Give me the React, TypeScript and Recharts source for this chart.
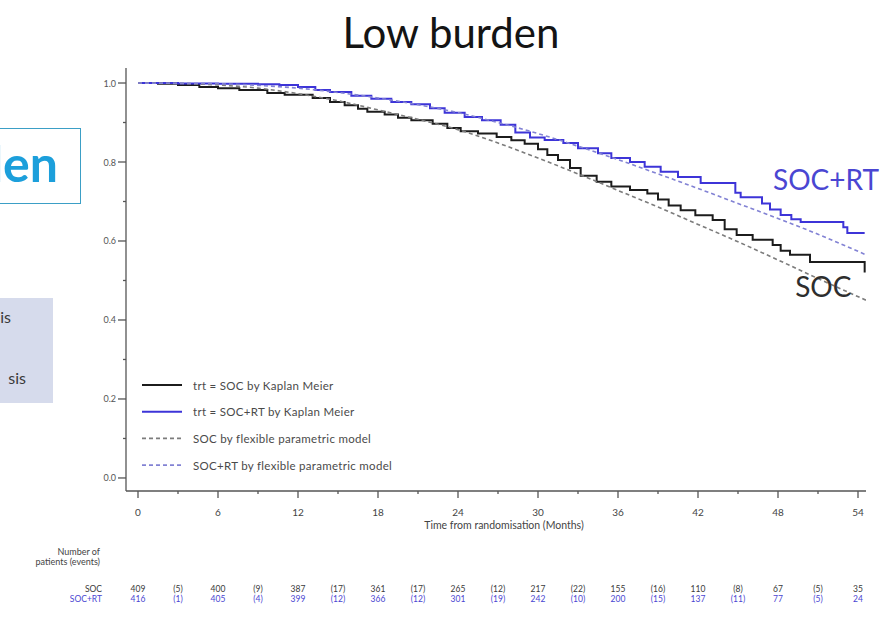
import React from 'react';
import { LineChart, Line, XAxis, YAxis, Legend, ReferenceDot, Label } from 'recharts';

// Time axis (months from randomisation) and survival axis ticks
const monthTicks = [0, 3, 6, 9, 12, 15, 18, 21, 24, 27, 30, 33, 36, 39, 42, 45, 48, 51, 54];
const survivalTicks = [0, 0.1, 0.2, 0.3, 0.4, 0.5, 0.6, 0.7, 0.8, 0.9, 1.0];

// Number at risk (every 6 months) and events (in between), one entry per time tick
const socAtRisk = ['409', '(5)', '400', '(9)', '387', '(17)', '361', '(17)', '265', '(12)', '217', '(22)', '155', '(16)', '110', '(8)', '67', '(5)', '35'];
const socRtAtRisk = ['416', '(1)', '405', '(4)', '399', '(12)', '366', '(12)', '301', '(19)', '242', '(10)', '200', '(15)', '137', '(11)', '77', '(5)', '24'];

// Kaplan-Meier estimates: [month, survival]
const socKaplanMeier: [number, number][] = [
  [0, 1.0], [1.5, 0.998], [3, 0.995], [4.6, 0.99], [6, 0.987], [7.6, 0.982], [9.7, 0.975],
  [11, 0.97], [13.1, 0.962], [14.4, 0.952], [15.5, 0.944], [16.5, 0.935], [17.2, 0.927],
  [18.5, 0.92], [19.5, 0.912], [20.5, 0.906], [22.1, 0.897], [23.2, 0.886], [24.2, 0.878],
  [25.5, 0.872], [26.9, 0.863], [28, 0.855], [29, 0.846], [30, 0.832], [30.7, 0.818],
  [31.5, 0.805], [32.4, 0.785], [33.2, 0.765], [34.4, 0.75], [35.5, 0.738], [36.9, 0.729],
  [38.2, 0.72], [39, 0.705], [39.8, 0.69], [40.7, 0.678], [41.8, 0.665], [43.1, 0.653],
  [44, 0.63], [44.9, 0.615], [46.1, 0.603], [47.6, 0.59], [48.2, 0.575], [48.9, 0.565],
  [50.4, 0.547], [54.5, 0.52],
];

const socRtKaplanMeier: [number, number][] = [
  [0, 1.0], [3, 0.999], [6, 0.998], [9, 0.997], [10.6, 0.995], [12, 0.99], [13.3, 0.982],
  [14.4, 0.977], [16, 0.968], [17.5, 0.96], [19, 0.952], [20.5, 0.946], [21.9, 0.936],
  [23, 0.925], [24.5, 0.914], [25.8, 0.906], [27.2, 0.894], [28.3, 0.875], [29.4, 0.862],
  [30.5, 0.856], [31.9, 0.848], [33, 0.835], [34.5, 0.822], [35.5, 0.81], [36.9, 0.8],
  [38, 0.788], [39.2, 0.775], [40.5, 0.762], [42.2, 0.747], [44.8, 0.722], [45.2, 0.711],
  [46.8, 0.695], [47.4, 0.68], [48.2, 0.666], [49, 0.655], [49.7, 0.648], [52.9, 0.635],
  [53.2, 0.62], [54.5, 0.62],
];

// Flexible parametric model fits: [month, survival]
const socModel: [number, number][] = [
  [0, 1.0], [3, 0.999], [6, 0.995], [9, 0.987], [12, 0.973], [15, 0.955], [18, 0.932],
  [21, 0.908], [24, 0.882], [27, 0.848], [30, 0.81], [33, 0.77], [36, 0.728], [39, 0.686],
  [42, 0.642], [45, 0.598], [48, 0.552], [51, 0.505], [54.6, 0.45],
];

const socRtModel: [number, number][] = [
  [0, 1.0], [3, 0.999], [6, 0.998], [9, 0.994], [12, 0.987], [15, 0.976], [18, 0.962],
  [21, 0.945], [24, 0.925], [27, 0.9], [30, 0.872], [33, 0.84], [36, 0.806], [39, 0.77],
  [42, 0.733], [45, 0.695], [48, 0.657], [51, 0.617], [54.6, 0.565],
];

const toPoints = (rows: [number, number][]) => rows.map(([t, s]) => ({ t, s }));

const series = [
  { key: 'socKM', name: 'trt = SOC by Kaplan Meier', rows: socKaplanMeier, stroke: '#1c1c1c', width: 2, dash: undefined, curve: 'stepAfter' },
  { key: 'socRtKM', name: 'trt = SOC+RT by Kaplan Meier', rows: socRtKaplanMeier, stroke: '#3d34d8', width: 2, dash: undefined, curve: 'stepAfter' },
  { key: 'socFit', name: 'SOC by flexible parametric model', rows: socModel, stroke: '#7c7c7c', width: 1.6, dash: '4 3', curve: 'monotone' },
  { key: 'socRtFit', name: 'SOC+RT by flexible parametric model', rows: socRtModel, stroke: '#8282d4', width: 1.6, dash: '4 3', curve: 'monotone' },
];

const SOC_BLUE = '#4a46d2';
const TICK_FONT = 'Lato, "Noto Sans", sans-serif';

const SurvivalTick = (props: any) => {
  const { x, y, payload } = props;
  const v = payload.value as number;
  const major = Math.round(v * 10) % 2 === 0;
  return (
    <g>
      <line x1={x - (major ? 8 : 3)} x2={x} y1={y} y2={y} stroke="#555" strokeWidth={1.3} />
      {major && (
        <text x={x - 10} y={y} textAnchor="end" dominantBaseline="central" fontSize={9} fill="#555" fontFamily={TICK_FONT}>
          {v.toFixed(1)}
        </text>
      )}
    </g>
  );
};

const MonthTick = (props: any) => {
  const { x, y, payload } = props;
  const v = payload.value as number;
  const idx = monthTicks.indexOf(v);
  const major = v % 6 === 0;
  return (
    <g fontFamily={TICK_FONT}>
      <line x1={x} x2={x} y1={y} y2={y + (major ? 7 : 3)} stroke="#555" strokeWidth={1.3} />
      {major && (
        <text x={x} y={y + 21} textAnchor="middle" dominantBaseline="central" fontSize={10} fill="#444">
          {v}
        </text>
      )}
      <text x={x} y={y + 98} textAnchor="middle" dominantBaseline="central" fontSize={8.5} fill="#3a3a3a">
        {socAtRisk[idx]}
      </text>
      <text x={x} y={y + 107.5} textAnchor="middle" dominantBaseline="central" fontSize={8.5} fill={SOC_BLUE}>
        {socRtAtRisk[idx]}
      </text>
      {idx === 0 && (
        <g>
          <text x={x - 38} y={y + 60} textAnchor="end" dominantBaseline="central" fontSize={9} fill="#444">Number of</text>
          <text x={x - 38} y={y + 70} textAnchor="end" dominantBaseline="central" fontSize={9} fill="#444">patients (events)</text>
          <text x={x - 36} y={y + 98} textAnchor="end" dominantBaseline="central" fontSize={8.5} fill="#3a3a3a">SOC</text>
          <text x={x - 36} y={y + 107.5} textAnchor="end" dominantBaseline="central" fontSize={8.5} fill={SOC_BLUE}>SOC+RT</text>
        </g>
      )}
    </g>
  );
};

const LegendBox = () => (
  <svg width={320} height={110} style={{ display: 'block' }}>
    {series.map((s, i) => {
      const cy = 13 + i * 26.7;
      return (
        <g key={s.key}>
          <line x1={6} x2={46} y1={cy} y2={cy} stroke={s.stroke} strokeWidth={s.width} strokeDasharray={s.dash} />
          <text x={57} y={cy} dominantBaseline="central" fontSize={11.5} letterSpacing={0.3} fill="#4a4a4a" fontFamily={TICK_FONT}>
            {s.name}
          </text>
        </g>
      );
    })}
  </svg>
);

export default function App() {
  return (
    <div style={{ position: 'absolute', left: 0, top: 0, width: 896, height: 621, background: '#fff', overflow: 'hidden' }}>
      {/* slide title */}
      <div style={{ position: 'absolute', left: 0, width: 902, top: 6, textAlign: 'center', fontFamily: 'Lato, sans-serif', fontSize: 42, color: '#141414', lineHeight: '52px' }}>
        Low burden
      </div>
      {/* neighbouring slide elements clipped at the left edge */}
      <div style={{ position: 'absolute', left: -20, top: 128, width: 99, height: 74, border: '1.5px solid #3b9fc6', background: '#fff' }} />
      <div style={{ position: 'absolute', right: 896 - 58, top: 128, height: 74, lineHeight: '70px', fontFamily: 'Lato, sans-serif', fontWeight: 700, fontSize: 50, color: '#1c9fdb', whiteSpace: 'nowrap' }}>
        den
      </div>
      <div style={{ position: 'absolute', left: 0, top: 298, width: 53, height: 105, background: '#d6dbec' }} />
      <div style={{ position: 'absolute', right: 896 - 11, top: 307, fontFamily: 'Lato, sans-serif', fontSize: 16, color: '#3a3a3a', lineHeight: '20px' }}>is</div>
      <div style={{ position: 'absolute', right: 896 - 26, top: 368, fontFamily: 'Lato, sans-serif', fontSize: 16, color: '#3a3a3a', lineHeight: '20px' }}>sis</div>

      <div style={{ position: 'absolute', left: 0, top: 0 }}>
        <LineChart width={896} height={621} margin={{ top: 68, right: 30, bottom: 90, left: 66 }}>
          <XAxis
            dataKey="t"
            type="number"
            domain={[-0.9, 54.6]}
            ticks={monthTicks}
            allowDataOverflow
            interval={0}
            height={40}
            tickSize={0}
            tickMargin={0}
            tick={<MonthTick />}
            axisLine={{ stroke: '#555', strokeWidth: 1.3 }}
          >
            <Label value="Time from randomisation (Months)" position="insideBottom" offset={2} dx={8} fontSize={10.5} fill="#444" fontFamily={TICK_FONT} />
          </XAxis>
          <YAxis
            type="number"
            domain={[-0.033, 1.038]}
            ticks={survivalTicks}
            allowDataOverflow
            interval={0}
            width={60}
            tickSize={0}
            tickMargin={0}
            tick={<SurvivalTick />}
            axisLine={{ stroke: '#555', strokeWidth: 1.3 }}
          />
          {series.map((s) => (
            <Line
              key={s.key}
              data={toPoints(s.rows)}
              dataKey="s"
              name={s.name}
              type={s.curve as any}
              stroke={s.stroke}
              strokeWidth={s.width}
              strokeDasharray={s.dash}
              dot={false}
              activeDot={false}
              isAnimationActive={false}
            />
          ))}
          <ReferenceDot
            x={51.6}
            y={0.754}
            r={0}
            fill="none"
            stroke="none"
            label={{ value: 'SOC+RT', position: 'center', fill: SOC_BLUE, fontSize: 28, fontFamily: 'Lato, sans-serif' }}
          />
          <ReferenceDot
            x={51.4}
            y={0.484}
            r={0}
            fill="none"
            stroke="none"
            label={{ value: 'SOC', position: 'center', fill: '#2e2e2e', fontSize: 28, fontFamily: 'Lato, sans-serif' }}
          />
          <Legend
            layout="vertical"
            align="center"
            verticalAlign="middle"
            content={<LegendBox />}
            wrapperStyle={{ left: 136, top: 372, width: 320, height: 110 }}
          />
        </LineChart>
      </div>
    </div>
  );
}
